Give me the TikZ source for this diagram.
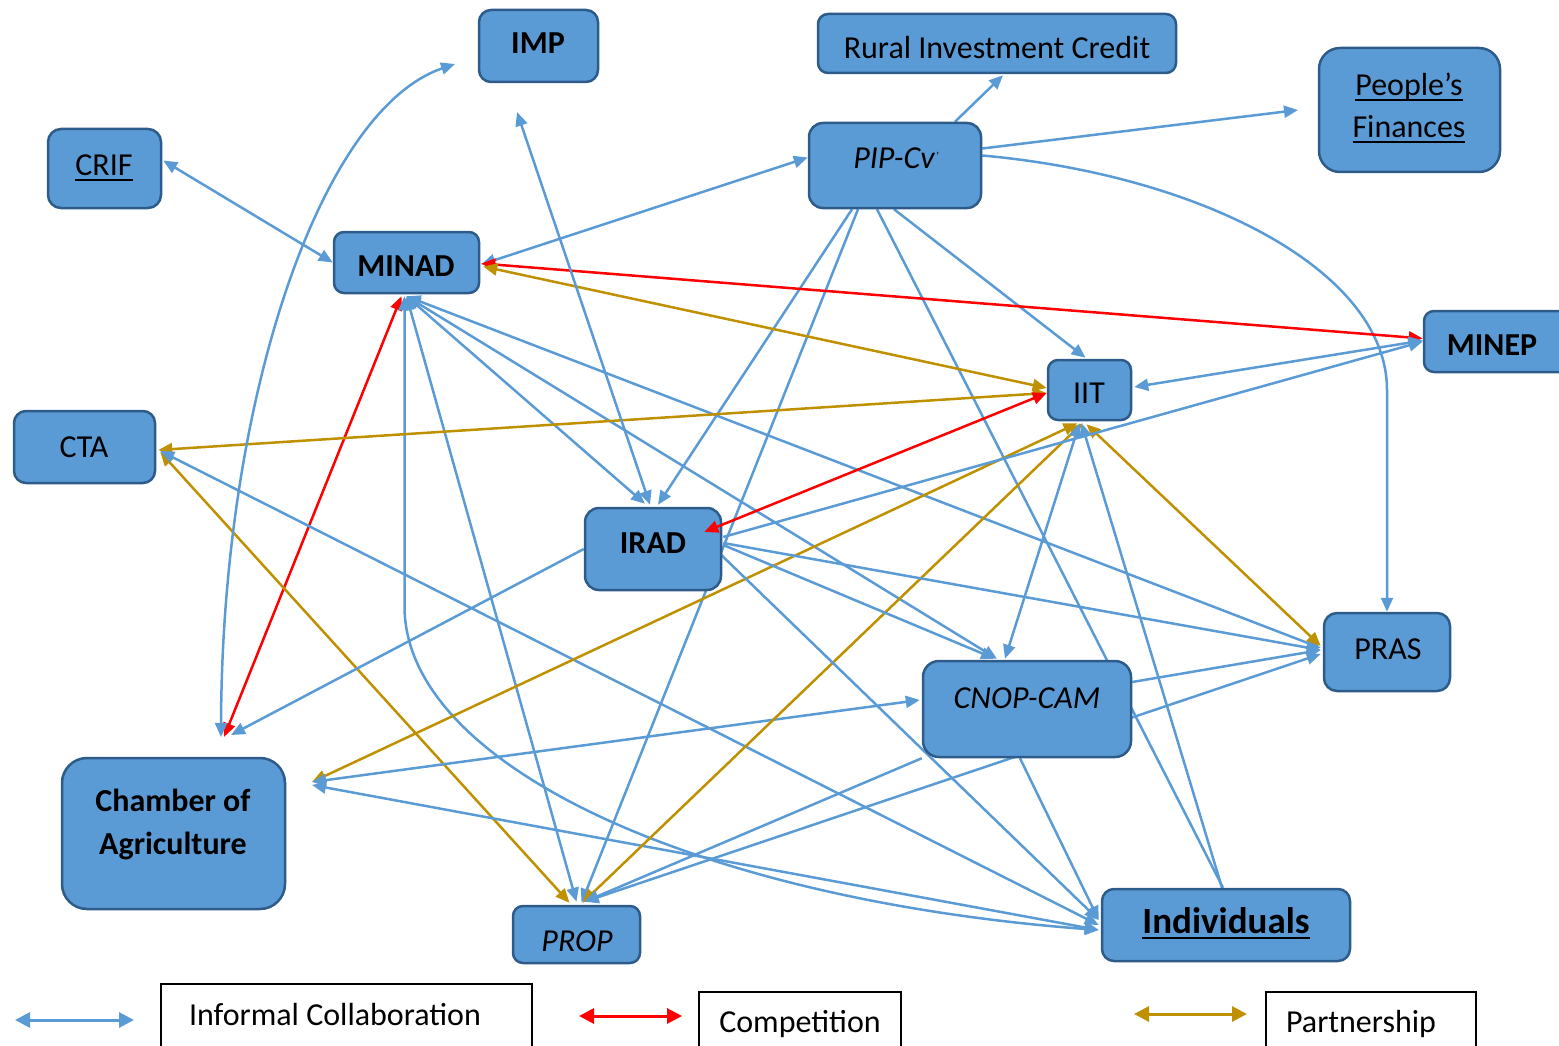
\documentclass[tikz,border=0pt]{standalone}
\usepackage{fontspec}
\setmainfont{Carlito}
\usetikzlibrary{arrows.meta}
\definecolor{eblue}{HTML}{5B9BD5}
\definecolor{nfill}{HTML}{5B9BD5}
\definecolor{nborder}{HTML}{2E5C8A}
\definecolor{egold}{HTML}{BF9000}
\definecolor{ered}{HTML}{FF0000}
\pgfdeclarelayer{bg}
\pgfsetlayers{bg,main}
\newsavebox{\myulbox}
\newcommand{\myul}[1]{\sbox{\myulbox}{#1}\rlap{\rule[-5.5pt]{\wd\myulbox}{2.2pt}}\usebox{\myulbox}}
\begin{document}
\begin{tikzpicture}[x=1pt,y=-1pt,
  box/.style n args={3}{draw=nborder, fill=nfill, line width=2.5pt, minimum width=#1, minimum height=#2, rounded corners=#3, inner sep=0pt},
  lbl/.style={inner sep=0pt, text height=20.6pt, text depth=0pt, font=\fontsize{32}{38}\selectfont},
  lblbig/.style={inner sep=0pt, text height=23.8pt, text depth=0pt, font=\fontsize{37}{44}\selectfont\bfseries},
  legbox/.style={draw=black, line width=1.5pt, fill=white, inner sep=0pt},
  eb/.style={draw=eblue, line width=2.5pt},
  eg/.style={draw=egold, line width=2.5pt},
  er/.style={draw=ered, line width=2.5pt},
  >={Triangle[length=14pt,width=12pt]},
  legarr/.style={line width=3pt, >={Triangle[length=15pt,width=15pt]}}
]
\useasboundingbox (0,0) rectangle (1559,1046);

% ---------- nodes ----------
\node[box={119pt}{72pt}{12pt}] (imp) at (538.5,46) {};
\node[lbl, font=\fontsize{32}{38}\selectfont\bfseries] (imp-t) at (538,43) {IMP};

\node[box={358pt}{59pt}{10pt}] (ric) at (997,43.5) {};
\node[lbl] (ric-t) at (997,48) {Rural Investment Credit};

\node[box={181pt}{124pt}{21pt}] (pf) at (1409.5,110) {};
\node[lbl] (pf-t1) at (1409,85) {\myul{People’s}};
\node[lbl] (pf-t2) at (1409,127) {\myul{Finances}};

\node[box={113pt}{79pt}{13pt}] (crif) at (104.5,168.5) {};
\node[lbl] (crif-t) at (104,165) {\myul{CRIF}};

\node[box={172pt}{85pt}{14pt}] (pip) at (895,165.5) {};
\node[lbl] (pip-t) at (896,158) {\itshape PIP-Cv\kern1pt\raisebox{8pt}{\fontsize{12}{12}\selectfont '}};

\node[box={145pt}{61pt}{10pt}] (minad) at (406.5,262.5) {};
\node[lbl, font=\fontsize{32}{38}\selectfont\bfseries] (minad-t) at (406,266) {MINAD};

\node[box={151pt}{61pt}{10pt}] (minep) at (1499.5,341.5) {};
\node[lbl, font=\fontsize{32}{38}\selectfont\bfseries] (minep-t) at (1492,345) {MINEP};

\node[box={83pt}{60pt}{10pt}] (iit) at (1089.5,390) {};
\node[lbl] (iit-t) at (1089,393) {IIT};

\node[box={141pt}{72pt}{12pt}] (cta) at (84.5,447) {};
\node[lbl] (cta-t) at (84,447) {CTA};

\node[box={136pt}{82pt}{14pt}] (irad) at (653,549) {};
\node[lbl, font=\fontsize{32}{38}\selectfont\bfseries] (irad-t) at (653,543) {IRAD};

\node[box={126pt}{78pt}{13pt}] (pras) at (1387,652) {};
\node[lbl] (pras-t) at (1388,649) {PRAS};

\node[box={208pt}{96pt}{16pt}] (cnop) at (1027,709) {};
\node[lbl] (cnop-t) at (1027,698) {\itshape CNOP-CAM};

\node[box={223pt}{151pt}{25pt}] (cham) at (173.5,833.5) {};
\node[lbl, font=\fontsize{32}{38}\selectfont\bfseries] (cham-t1) at (173,801) {Chamber of};
\node[lbl, font=\fontsize{32}{38}\selectfont\bfseries] (cham-t2) at (173,844) {Agriculture};

\node[box={127pt}{57pt}{10pt}] (prop) at (576.5,934.5) {};
\node[lbl] (prop-t) at (577,941) {\itshape PROP};

\node[box={248pt}{72pt}{12pt}] (indiv) at (1226,925) {};
\node[lblbig] (indiv-t) at (1226,922) {\myul{Individuals}};

% ---------- free ends ----------
\coordinate (impA) at (455,64);
\coordinate (impB) at (517,112);
\coordinate (pfA) at (1298,110);
\coordinate (chamT1) at (221,737);
\coordinate (chamT2) at (224,737);
\coordinate (chamT3) at (231,735);
\coordinate (chamR) at (312,782);

% ---------- connectors ----------
\begin{pgfonlayer}{bg}
% PIP-Cv
\draw[eb,->] ([shift={(60,0)}]pip.north) -- ([shift={(6,1)}]ric.south);
\draw[eb,->] ([shift={(0,-17)}]pip.east) -- (pfA);
\draw[eb,->] ([shift={(0,-10)}]pip.east) .. controls (1200,175) and (1387,270) .. (1387,390) -- (pras.north);
\draw[eb,->] ([shift={(-43,0)}]pip.south) -- ([shift={(5,-2)}]irad.north);
\draw[eb,->] ([shift={(-37,0)}]pip.south) -- ([shift={(5,-2)}]prop.north);
\draw[eb] ([shift={(-18,0)}]pip.south) -- ([shift={(-3,0)}]indiv.north);
\draw[eb,->] ([shift={(-1,0)}]pip.south) -- ([shift={(-4,-1)}]iit.north);
% MINAD
\draw[eb,<->] ([shift={(1,2)}]minad.east) -- ([shift={(0,-8)}]pip.west);
\draw[eb,<->] ([shift={(1,-8)}]crif.east) -- (minad.west);
\draw[er,<->] ([shift={(1,1)}]minad.east) -- ([shift={(0,-3)}]minep.west);
\draw[eg,<->] ([shift={(3,4)}]minad.east) -- ([shift={(0,-2)}]iit.west);
\draw[er,<->] ([shift={(-5,2)}]minad.south) -- (chamT2);
\draw[eb,<->] ([shift={(0,2)}]minad.south) -- ([shift={(-8,-3)}]irad.north);
\draw[eb,<->] ([shift={(0,2)}]minad.south) -- ([shift={(-30,-1)}]cnop.north);
\draw[eb,<->] ([shift={(0,2)}]minad.south) -- ([shift={(-2,-4)}]pras.west);
\draw[eb,<->] ([shift={(0,2)}]minad.south) -- ([shift={(0,-3)}]prop.north);
\draw[eb,<->] ([shift={(-2,2)}]minad.south) -- ++(0,310) .. controls +(0,160) and (700,900) .. ([shift={(-2,5)}]indiv.west);
% CTA
\draw[eg,<->] ([shift={(2,3)}]cta.east) -- ([shift={(0,3)}]iit.west);
\draw[eg,<->] ([shift={(4,5)}]cta.east) -- ([shift={(-7,-2)}]prop.north);
\draw[eb,<->] ([shift={(4,4)}]cta.east) -- ([shift={(-2,0)}]indiv.west);
% Chamber of Agriculture
\draw[eb,<->] (chamT1) .. controls (222,400) and (320,110) .. (impA);
\draw[eb,->] (irad.west) -- (chamT3);
\draw[eg,<->] ([shift={(-12,2)}]iit.south) -- (chamR);
\draw[eb,<->] ([shift={(-2,-9)}]cnop.west) -- (chamR);
\draw[eb,<->] ([shift={(-2,5)}]indiv.west) -- ([shift={(0,3)}]chamR);
% IMP
\draw[eb,<->] (impB) -- ([shift={(-3,-2)}]irad.north);
% IIT
\draw[eb,<->] ([shift={(2,-3)}]iit.east) -- ([shift={(0,-1)}]minep.west);
\draw[eg,<->] ([shift={(-7,2)}]iit.south) -- ([shift={(6,-2)}]prop.north);
\draw[eb,<->] ([shift={(-10,2)}]iit.south) -- ([shift={(-22,-1)}]cnop.north);
\draw[eb,<-] ([shift={(-8,2)}]iit.south) -- ([shift={(-4,0)}]indiv.north);
\draw[eg,<->] ([shift={(-3,3)}]iit.south) -- ([shift={(-2,-6)}]pras.west);
% IRAD
\draw[eb,->] ([shift={(1,-12)}]irad.east) -- (minep.west);
\draw[eb,->] ([shift={(1,-6)}]irad.east) -- ([shift={(-2,-2)}]pras.west);
\draw[eb,->] ([shift={(1,-4)}]irad.east) -- ([shift={(-32,-1)}]cnop.north);
\draw[eb,->] ([shift={(-2,5)}]irad.east) -- ([shift={(-2,-5)}]indiv.west);
% CNOP-CAM and PROP
\draw[eb,->] ([shift={(0,-27)}]cnop.east) -- ([shift={(-2,-2)}]pras.west);
\draw[eb,->] ([shift={(-7,0)}]cnop.south) -- ([shift={(-2,-5)}]indiv.west);
\draw[eb,<->] ([shift={(8,-3)}]prop.north) -- ([shift={(-2,2)}]pras.west);
\draw[eb,<-] ([shift={(8,-3)}]prop.north) -- (cnop.south west);
\end{pgfonlayer}

% competition arrow drawn over IRAD
\draw[er,<->] ([shift={(0,3)}]iit.west) -- ([shift={(-18,-17)}]irad.east);

% ---------- legend ----------
\coordinate (lb1) at (15,1020);
\coordinate (lb2) at (134,1020);
\coordinate (lr1) at (579,1016);
\coordinate (lr2) at (682,1016);
\coordinate (lg1) at (1134,1014);
\coordinate (lg2) at (1247,1014);
\draw[eb,legarr,<->] (lb1) -- (lb2);
\draw[er,legarr,<->] (lr1) -- (lr2);
\draw[eg,legarr,<->] (lg1) -- (lg2);

\node[legbox, minimum width=371pt, minimum height=90pt] (leg1) at (346.5,1029) {};
\node[lbl] (leg1-t) at (335,1015) {Informal Collaboration};
\node[legbox, minimum width=202pt, minimum height=90pt] (leg2) at (800,1037) {};
\node[lbl] (leg2-t) at (800,1022) {Competition};
\node[legbox, minimum width=210pt, minimum height=90pt] (leg3) at (1371,1037) {};
\node[lbl] (leg3-t) at (1361,1022) {Partnership};
\end{tikzpicture}
\end{document}
